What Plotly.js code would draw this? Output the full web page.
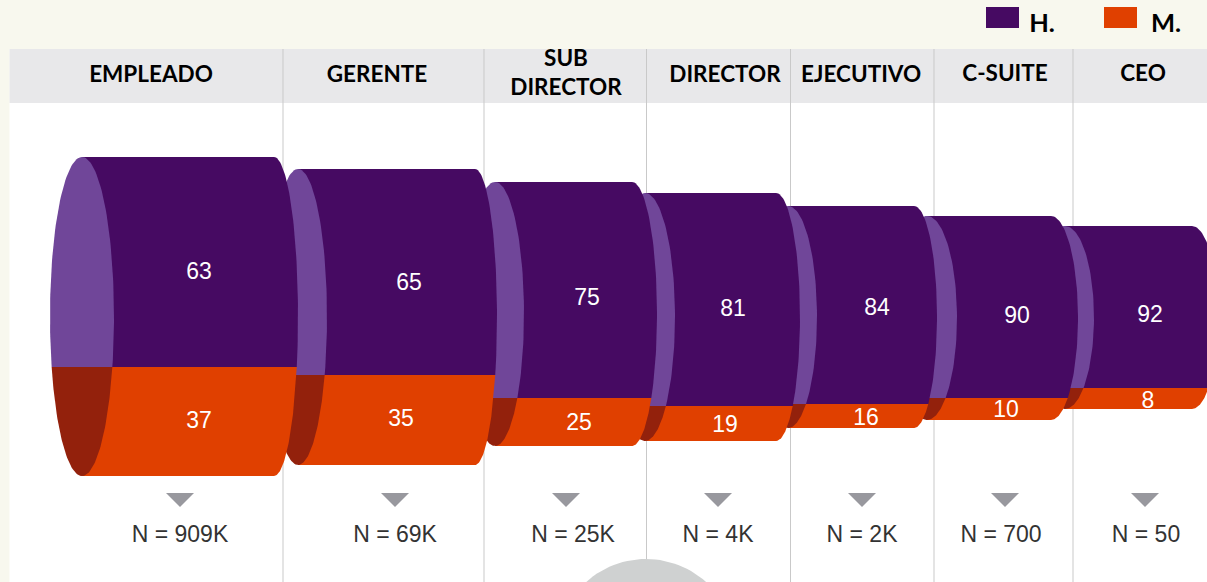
<!DOCTYPE html>
<html>
<head>
<meta charset="utf-8">
<script src="https://cdn.plot.ly/plotly-3.0.1.min.js"></script>
<style>html,body{margin:0;padding:0;background:#f8f8ee;overflow:hidden}#chart{width:1207px;height:582px}</style>
</head>
<body>
<div id="chart"></div>
<script>
// Data
const categories = ['EMPLEADO', 'GERENTE', 'SUB<br>DIRECTOR', 'DIRECTOR', 'EJECUTIVO', 'C-SUITE', 'CEO'];
const hombres = [63, 65, 75, 81, 84, 90, 92];
const mujeres = [37, 35, 25, 19, 16, 10, 8];
const nLabels = ['N = 909K', 'N = 69K', 'N = 25K', 'N = 4K', 'N = 2K', 'N = 700', 'N = 50'];

// Layout measured on the picture (separate from the values)
const barrelTop = [157, 169, 182, 193, 206, 216, 226];
const barrelSplit = [367, 375, 398, 406, 404, 398, 388];
const barrelBottom = [476, 465, 446, 441, 428, 420, 409];
const capX = [82, 298, 495, 645, 788, 927, 1065];
const capRx = [32, 29, 29, 30, 29, 30, 29];
const rimX = [274, 475, 632, 776, 914, 1051, 1192];
const rimRx = [24, 22, 25, 24, 23, 27, 26];
const hombresX = [199, 409, 587, 733, 877, 1017, 1150];
const hombresY = [273, 284, 299, 310, 309, 317, 316];
const mujeresX = [199, 401, 579, 725, 866, 1006, 1148];
const mujeresY = [422, 420, 424, 426, 419, 411, 402];
const headerX = [151, 377, 566, 725, 861, 1005, 1143];
const headerY = [76, 76, 75, 76, 76, 75, 75];
const triangleX = [180, 395, 566, 718, 862, 1005, 1145];
const nX = [180, 395, 573, 718, 862, 1001, 1146];
const separators = [283, 484, 646.5, 790.5, 934, 1073];

const COL = {page:'#f8f8ee', header:'#e8e8ea', dark:'#460a62', light:'#704699', orange:'#e04000', darkOrange:'#93210c', tri:'#98989e', sep:'#c9c9c9', circle:'#cfd1d1'};

// Horizontal offset of an ellipse edge at height y
function arcX(y, cy, ry, rx) {
  const d = Math.min(1, Math.abs(y - cy) / ry);
  return rx * Math.sqrt(1 - d * d);
}
function samples(a, b, n) {
  const out = [];
  for (let k = 0; k <= n; k++) {
    // cosine spacing to resolve the ends of the arc
    const t = (1 - Math.cos(Math.PI * k / n)) / 2;
    out.push(a + (b - a) * t);
  }
  return out;
}
function fillTrace(xs, ys, color) {
  return {type:'scatter', mode:'lines', x:xs, y:ys, fill:'toself', fillcolor:color,
          line:{width:0, color:color}, hoverinfo:'skip', showlegend:false};
}
// band from y0 to y1: left = ellipse left or right side, right = ellipse right side
function band(y0, y1, cy, ry, lx, lrx, rx, rrx, color) {
  const up = samples(y0, y1, 60), xs = [], ys = [];
  up.forEach(y => { xs.push(rx + arcX(y, cy, ry, rrx)); ys.push(y); });
  up.slice().reverse().forEach(y => { xs.push(lx + lrx * arcX(y, cy, ry, 1)); ys.push(y); });
  xs.push(xs[0]); ys.push(ys[0]);
  return fillTrace(xs, ys, color);
}

const traces = [];
// Grey circle at the foot
const cxs = [], cys = [];
for (let a = 0; a <= 120; a++) {
  const th = Math.PI * a / 60;
  cxs.push(646 + 90 * Math.cos(th)); cys.push(649 + 90 * Math.sin(th));
}
traces.push(fillTrace(cxs, cys, COL.circle));

// Barrels from right to left, so that each overlaps the next one
for (let i = categories.length - 1; i >= 0; i--) {
  const t = barrelTop[i], s = barrelSplit[i], b = barrelBottom[i];
  const cy = (t + b) / 2, ry = (b - t) / 2;
  traces.push(band(t, s, cy, ry, capX[i], 0, rimX[i], rimRx[i], COL.dark));
  traces.push(band(s, b, cy, ry, capX[i], 0, rimX[i], rimRx[i], COL.orange));
  traces.push(band(t, s, cy, ry, capX[i], -capRx[i], capX[i], capRx[i], COL.light));
  traces.push(band(s, b, cy, ry, capX[i], -capRx[i], capX[i], capRx[i], COL.darkOrange));
}

// Pointers under each barrel
triangleX.forEach(x => traces.push(fillTrace([x - 14, x + 14, x, x - 14], [493, 493, 507, 493], COL.tri)));

// Legend swatches
traces.push(fillTrace([986, 1019, 1019, 986, 986], [7, 7, 28, 28, 7], COL.dark));
traces.push(fillTrace([1104, 1137, 1137, 1104, 1104], [7, 7, 28, 28, 7], COL.orange));

function textTrace(xs, ys, txt, font) {
  return {type:'scatter', mode:'text', x:xs, y:ys, text:txt, textposition:'middle center',
          textfont:font, hoverinfo:'skip', showlegend:false, cliponaxis:false};
}
const labelFont = {family:'"Liberation Sans", Arial, sans-serif', size:23, color:'#ffffff'};
const headFont = {family:'Lato, sans-serif', size:22.5, color:'#000000', weight:700};
traces.push(textTrace(hombresX, hombresY, hombres.map(String), labelFont));
traces.push(textTrace(mujeresX, mujeresY, mujeres.map(String), labelFont));
traces.push(textTrace(headerX, headerY, categories, headFont));
traces.push(textTrace(nX, nX.map(() => 536), nLabels, {family:'"Liberation Sans", Arial, sans-serif', size:23, color:'#333333'}));
traces.push(textTrace([1042, 1166], [26, 26], ['H.', 'M.'], {family:'Lato, sans-serif', size:25.5, color:'#000000', weight:700}));

const shapes = [
  {type:'rect', xref:'x', yref:'y', x0:9.5, x1:1207, y0:49, y1:582, fillcolor:'#ffffff', line:{width:0}, layer:'below'},
  {type:'rect', xref:'x', yref:'y', x0:9.5, x1:1207, y0:49, y1:103, fillcolor:COL.header, line:{width:0}, layer:'below'}
];
separators.forEach(x => shapes.push({type:'line', xref:'x', yref:'y', x0:x, x1:x, y0:49, y1:582, line:{color:COL.sep, width:1}, layer:'below'}));

const layout = {
  width:1207, height:582, margin:{l:0, r:0, t:0, b:0, pad:0},
  paper_bgcolor:COL.page, plot_bgcolor:'rgba(0,0,0,0)', showlegend:false,
  xaxis:{range:[0, 1207], visible:false, fixedrange:true},
  yaxis:{range:[582, 0], visible:false, fixedrange:true},
  shapes:shapes
};
Plotly.newPlot('chart', traces, layout, {displayModeBar:false, staticPlot:true});
</script>
</body>
</html>
